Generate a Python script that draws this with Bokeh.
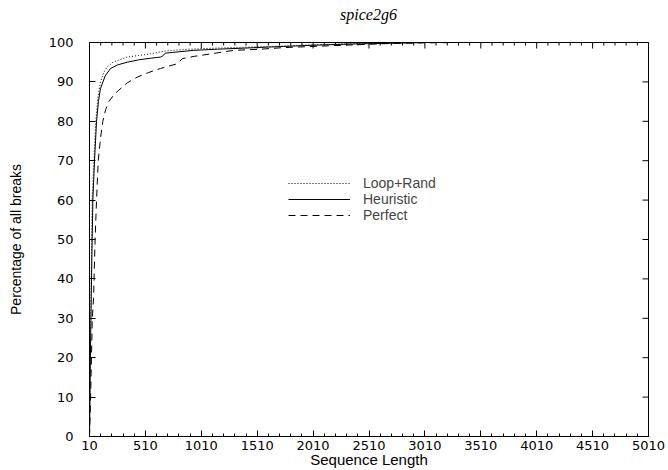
import math
from bokeh.plotting import figure
from bokeh.layouts import column
from bokeh.models import (LinearAxis, FixedTicker, Range1d, Legend, LegendItem, Div)
from bokeh.embed import file_html
from bokeh.resources import INLINE

title_text = "spice2g6"
x_label = "Sequence Length"
y_label = "Percentage of all breaks"

x_ticks = [10, 510, 1010, 1510, 2010, 2510, 3010, 3510, 4010, 4510, 5010]
x_minor = [v for v in range(110, 5010, 100) if (v - 10) % 500 != 0]
y_ticks = [0, 10, 20, 30, 40, 50, 60, 70, 80, 90, 100]

loop_x = [10, 15, 25, 34, 49, 66, 85, 108, 140, 168, 220, 347, 450, 555, 640, 700,
          900, 1154, 1500, 1745, 2000, 2343, 2700, 3000, 3500, 5010]
loop_y = [0, 20, 40, 60, 70, 80, 86, 90, 92.5, 93.8, 95, 96.3, 96.7, 97.1, 97.6, 97.9,
          98.3, 98.6, 98.9, 99.1, 99.4, 99.7, 99.9, 100, 100, 100]

heur_x = [10, 18, 28, 40, 55, 73, 90, 108, 150, 198, 260, 347, 450, 555, 645, 660, 690,
          940, 1154, 1500, 1745, 2000, 2343, 2700, 3000, 3500, 5010]
heur_y = [0, 20, 40, 60, 70, 80, 85, 88.3, 91.5, 93.4, 94.3, 95.0, 95.6, 96.0, 96.3, 96.5, 97.3,
          98.0, 98.3, 98.7, 99.0, 99.3, 99.6, 99.8, 100, 100, 100]

perf_x = [10, 20, 35, 46, 60, 73, 88, 110, 129, 155, 183, 230, 272, 350, 436, 540, 645, 720,
          794, 820, 839, 950, 1092, 1297, 1539, 1745, 2190, 2640, 3000, 3300, 5010]
perf_y = [0, 10, 30, 35, 50, 60, 70, 76, 80, 83, 85, 86.8, 87.9, 89.8, 91.2, 92.4, 93.4, 94.0,
          94.6, 95.3, 95.9, 96.5, 97.1, 98.0, 98.3, 98.7, 99.2, 99.7, 99.9, 100, 100]

FONT = "Liberation Sans"
TICK_FONT = "DejaVu Sans"

x0, x1 = x_ticks[0], x_ticks[-1]
y0, y1 = y_ticks[0], y_ticks[-1]

title_div = Div(text=title_text, width=559, height=20, margin=(5, 0, 8, 89),
                styles={"font-family": "Liberation Serif", "font-style": "italic",
                        "font-size": "16px", "line-height": "20px", "color": "black",
                        "text-align": "center", "width": "559px"})

p = figure(width=668, height=437, output_backend="svg", toolbar_location=None,
           x_range=Range1d(x0, x1), y_range=Range1d(y0, y1),
           min_border_left=89, min_border_right=20, min_border_top=9, min_border_bottom=32,
           x_axis_location=None, y_axis_location=None)
p.grid.visible = False
p.outline_line_color = "black"
p.outline_line_width = 1
p.background_fill_color = "white"
p.border_fill_color = "white"

def style_axis(ax):
    ax.axis_line_color = "black"
    ax.major_tick_line_color = "black"
    ax.minor_tick_line_color = "black"
    ax.major_tick_in = 6
    ax.major_tick_out = 0
    ax.minor_tick_in = 3
    ax.minor_tick_out = 0
    ax.major_label_text_font = TICK_FONT
    ax.major_label_text_color = "black"
    ax.major_label_text_font_size = "13px"
    ax.axis_label_text_font = FONT
    ax.axis_label_text_font_style = "normal"
    ax.axis_label_text_color = "black"

xb = LinearAxis(ticker=FixedTicker(ticks=x_ticks, minor_ticks=x_minor), axis_label=x_label)
style_axis(xb)
xb.major_label_standoff = 4
xb.axis_label_text_font_size = "15px"
xb.axis_label_standoff = -2
p.add_layout(xb, "below")

yl = LinearAxis(ticker=FixedTicker(ticks=y_ticks, minor_ticks=[]), axis_label=y_label)
style_axis(yl)
yl.major_label_standoff = 16
yl.axis_label_text_font_size = "14px"
yl.axis_label_standoff = 22
p.add_layout(yl, "left")

# mirrored inward ticks on the top and right frame edges
p.ray(x=x_ticks, y=[y1] * len(x_ticks), length=6, length_units="screen",
      angle=-math.pi / 2, line_color="black", line_width=1)
p.ray(x=x_minor, y=[y1] * len(x_minor), length=3, length_units="screen",
      angle=-math.pi / 2, line_color="black", line_width=1)
p.ray(x=[x1] * len(y_ticks), y=y_ticks, length=6, length_units="screen",
      angle=math.pi, line_color="black", line_width=1)

r1 = p.line(loop_x, loop_y, line_color="black", line_width=1, line_dash="1 2")
r2 = p.line(heur_x, heur_y, line_color="black", line_width=1)
r3 = p.line(perf_x, perf_y, line_color="black", line_width=1, line_dash="7 5")

legend = Legend(items=[LegendItem(label="Loop+Rand", renderers=[r1]),
                       LegendItem(label="Heuristic", renderers=[r2]),
                       LegendItem(label="Perfect", renderers=[r3])],
                location=(199, 213), padding=0, margin=0, spacing=0,
                glyph_width=62, glyph_height=16, label_height=16, label_standoff=13,
                label_text_font=FONT, label_text_font_size="14px",
                border_line_alpha=0, background_fill_alpha=0)
p.add_layout(legend, "center")

layout = column(title_div, p, spacing=0)
open("out.html", "w").write(file_html(layout, INLINE))
